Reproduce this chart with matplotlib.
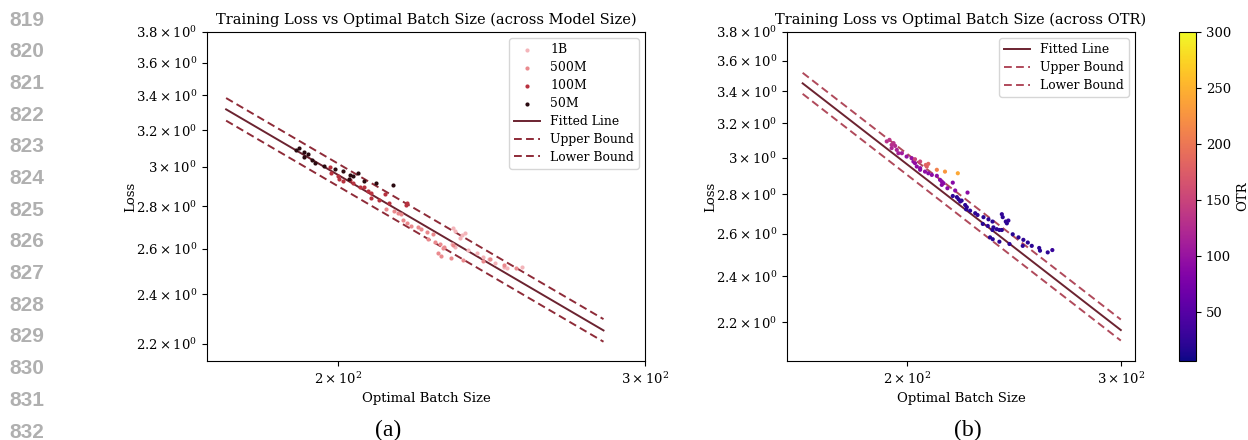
import numpy as np
import matplotlib
matplotlib.use("Agg")
import matplotlib.pyplot as plt
from matplotlib.ticker import FixedLocator, FixedFormatter, NullLocator
from matplotlib.colors import Normalize

plt.rcParams['font.family'] = ['DejaVu Serif']
plt.rcParams['mathtext.fontset'] = 'dejavuserif'

# ---------------- data: panel (a) ----------------
x_1b = [232.9, 233.4, 235.5, 236.5, 232.4, 233.4, 237.6, 240.2, 242.3, 244.0, 246.1, 249.0, 249.9, 254.9, 235.0]
y_1b = [2.695, 2.679, 2.663, 2.671, 2.621, 2.609, 2.594, 2.579, 2.564, 2.555, 2.537, 2.519, 2.512, 2.517, 2.648]

x_500m = [213.1, 215.2, 216.4, 217.4, 218.0, 219.0, 220.1, 222.2, 223.2, 224.9, 226.8, 225.2, 227.2,
          228.8, 229.7, 228.2, 229.2, 232.2, 236.0, 242.1, 244.3, 249.0, 253.0, 229.9, 232.7]
y_500m = [2.787, 2.779, 2.769, 2.761, 2.734, 2.718, 2.707, 2.698, 2.690, 2.677, 2.668, 2.646, 2.629,
          2.621, 2.601, 2.582, 2.568, 2.559, 2.549, 2.542, 2.552, 2.527, 2.512, 2.606, 2.614]

x_100m = [197.9, 198.2, 199.9, 200.2, 201.2, 203.2, 203.9, 205.9, 207.1, 208.1, 209.0, 209.0, 211.0,
          212.9, 213.8, 218.8, 219.0]
y_100m = [2.998, 2.970, 2.955, 2.936, 2.929, 2.933, 2.915, 2.898, 2.898, 2.878, 2.868, 2.840, 2.831,
          2.860, 2.818, 2.807, 2.818]

x_50m = [189.1, 190.0, 191.1, 191.3, 192.1, 193.2, 194.1, 196.2, 199.1, 201.2, 203.2, 204.1, 205.2,
         202.9, 207.1, 210.2, 215.1]
y_50m = [3.090, 3.101, 3.080, 3.051, 3.069, 3.037, 3.019, 3.005, 2.990, 2.979, 2.958, 2.950, 2.969,
         2.936, 2.929, 2.919, 2.908]

fit_a_left = 2.958      # loss at batch size 200
fit_b_left = -0.777     # power-law exponent
fit_range_left = [172.5, 284.0]

# ---------------- data: panel (b) ----------------
x_otr = [192.3, 193.3, 194.1, 194.8, 195.4, 194.1, 196.0, 196.6, 197.9,
         199.7, 201.6, 202.3, 202.9, 203.6, 204.9, 204.9, 206.8, 208.1, 209.5, 211.5, 212.8, 213.5,
         213.5, 214.2, 215.8, 218.0, 219.0, 224.2,
         202.9, 204.9, 207.1, 207.5, 208.1, 211.5, 214.8, 220.1,
         218.0, 219.7, 220.4, 221.7, 221.1, 223.2, 223.9, 223.6, 225.3, 227.5, 228.5, 231.1, 233.3,
         235.1, 230.8, 233.0, 235.5, 237.0, 239.3, 242.3, 239.3, 239.7, 241.6, 241.1, 234.0, 235.2,
         238.2, 242.8, 244.3, 247.0, 249.3, 251.4, 253.3, 256.9, 257.3, 261.1, 263.4, 249.0, 235.1, 238.2]
y_otr = [3.093, 3.102, 3.073, 3.083, 3.067, 3.054, 3.044, 3.025, 3.025,
         3.006, 2.997, 2.978, 2.969, 2.950, 2.941, 2.932, 2.922, 2.913, 2.904, 2.899, 2.877, 2.868,
         2.850, 2.859, 2.832, 2.862, 2.820, 2.809,
         2.991, 2.978, 2.959, 2.950, 2.965, 2.932, 2.922, 2.913,
         2.791, 2.785, 2.774, 2.767, 2.762, 2.744, 2.733, 2.722, 2.715, 2.702, 2.693, 2.682, 2.671,
         2.660, 2.648, 2.638, 2.631, 2.622, 2.618, 2.665, 2.697, 2.682, 2.651, 2.660, 2.582, 2.573,
         2.561, 2.550, 2.597, 2.582, 2.570, 2.557, 2.541, 2.531, 2.518, 2.510, 2.521, 2.541, 2.618, 2.618]
otr = [130, 135, 128, 132, 126, 120, 118, 112, 110,
       100, 98, 96, 95, 94, 96, 92, 94, 90, 92, 95, 90, 92,
       88, 90, 92, 88, 90, 92,
       150, 152, 182, 178, 185, 210, 228, 242,
       25, 22, 24, 20, 28, 22, 25, 20, 24, 22, 26, 20, 24,
       22, 20, 25, 22, 24, 20, 28, 26, 22, 20, 24, 18, 20,
       22, 24, 20, 22, 24, 20, 22, 24, 20, 22, 30, 24, 20, 22]

fit_a_right = 2.961
fit_b_right = -0.768
fit_range_right = [163.9, 300.0]
bound_factor = 1.02

otr_min, otr_max = 6, 300
cbar_ticks = [50, 100, 150, 200, 250, 300]
y_ticks = [2.2, 2.4, 2.6, 2.8, 3.0, 3.2, 3.4, 3.6, 3.8]
y_ticklabels = [r'$2.2\times10^{0}$', r'$2.4\times10^{0}$', r'$2.6\times10^{0}$', r'$2.8\times10^{0}$',
                r'$3\times10^{0}$', r'$3.2\times10^{0}$', r'$3.4\times10^{0}$', r'$3.6\times10^{0}$',
                r'$3.8\times10^{0}$']
x_ticks = [200, 300]
x_ticklabels = [r'$2\times10^{2}$', r'$3\times10^{2}$']
line_numbers = list(range(819, 833))

# ---------------- figure ----------------
W, H = 1248, 440
fig = plt.figure(figsize=(W / 100, H / 100), dpi=100)


def px_axes(x0, x1, y0, y1):
    return fig.add_axes([x0 / W, 1 - y1 / H, (x1 - x0) / W, (y1 - y0) / H])


ax1 = px_axes(207, 645, 32, 361)
ax2 = px_axes(787, 1135, 32, 361)
cax = px_axes(1179, 1196, 32, 361)

FS = 9.5
LFS = 8.9
col_fit = '#6b2330'
col_bound_left = '#8e2b38'
col_bound_right = '#b04a5b'


def style(ax, ylim, xlim):
    ax.set_xscale('log')
    ax.set_yscale('log')
    ax.set_xlim(*xlim)
    ax.set_ylim(*ylim)
    ax.yaxis.set_major_locator(FixedLocator(y_ticks))
    ax.yaxis.set_major_formatter(FixedFormatter(y_ticklabels))
    ax.yaxis.set_minor_locator(NullLocator())
    ax.xaxis.set_major_locator(FixedLocator(x_ticks))
    ax.xaxis.set_major_formatter(FixedFormatter(x_ticklabels))
    ax.xaxis.set_minor_locator(NullLocator())
    ax.tick_params(labelsize=FS, length=3.5, width=0.8)
    ax.set_xlabel('Optimal Batch Size', fontsize=FS)
    ax.set_ylabel('Loss', fontsize=FS, labelpad=-1)


def draw_fit(ax, a, b, rng, cb):
    xs = np.geomspace(rng[0], rng[1], 50)
    ys = a * (xs / 200.0) ** b
    ax.plot(xs, ys, color=col_fit, lw=1.4, label='Fitted Line')
    ax.plot(xs, ys * bound_factor, color=cb, lw=1.4, ls=(0, (4, 2.2)), label='Upper Bound')
    ax.plot(xs, ys / bound_factor, color=cb, lw=1.4, ls=(0, (4, 2.2)), label='Lower Bound')


leg_kw = dict(loc='upper right', fontsize=LFS, framealpha=0.8, borderpad=0.4, labelspacing=0.4,
              handlelength=2.1, handletextpad=0.8)

# panel (a)
ms = 9
ax1.scatter(x_1b, y_1b, s=ms, color='#f4b5ba', label='1B', zorder=3, lw=0)
ax1.scatter(x_500m, y_500m, s=ms, color='#ea8a8e', label='500M', zorder=3, lw=0)
ax1.scatter(x_100m, y_100m, s=ms, color='#b8323f', label='100M', zorder=3, lw=0)
ax1.scatter(x_50m, y_50m, s=ms, color='#2a0a10', label='50M', zorder=3, lw=0)
draw_fit(ax1, fit_a_left, fit_b_left, fit_range_left, col_bound_left)
style(ax1, (2.135, 3.8), (168.2, 300))
ax1.set_title('Training Loss vs Optimal Batch Size (across Model Size)', fontsize=10.5, pad=6)
ax1.legend(**leg_kw)

# panel (b)
norm = Normalize(vmin=otr_min, vmax=otr_max)
sc = ax2.scatter(x_otr, y_otr, c=otr, cmap='plasma', norm=norm, s=ms, zorder=3, lw=0)
draw_fit(ax2, fit_a_right, fit_b_right, fit_range_right, col_bound_right)
style(ax2, (2.046, 3.8), (159.1, 308.2))
ax2.set_title('Training Loss vs Optimal Batch Size (across OTR)', fontsize=10.5, pad=6)
ax2.legend(**leg_kw)
cb = fig.colorbar(sc, cax=cax, ticks=cbar_ticks)
cb.ax.tick_params(labelsize=FS, length=3.5)
cb.set_label('OTR', fontsize=FS)
cb.outline.set_linewidth(0.8)

# captions and line numbers
fig.text(388 / W, 1 - 430 / H, '(a)', ha='center', va='center', fontsize=17,
         family='Liberation Serif')
fig.text(968 / W, 1 - 430 / H, '(b)', ha='center', va='center', fontsize=17,
         family='Liberation Serif')
for i, n in enumerate(line_numbers):
    fig.text(27 / W, 1 - (20 + i * 31.7) / H, str(n), ha='center', va='center', fontsize=15,
             family='Liberation Sans', color='#b0b0b0', fontweight='bold')

fig.savefig('out.png', dpi=100)
